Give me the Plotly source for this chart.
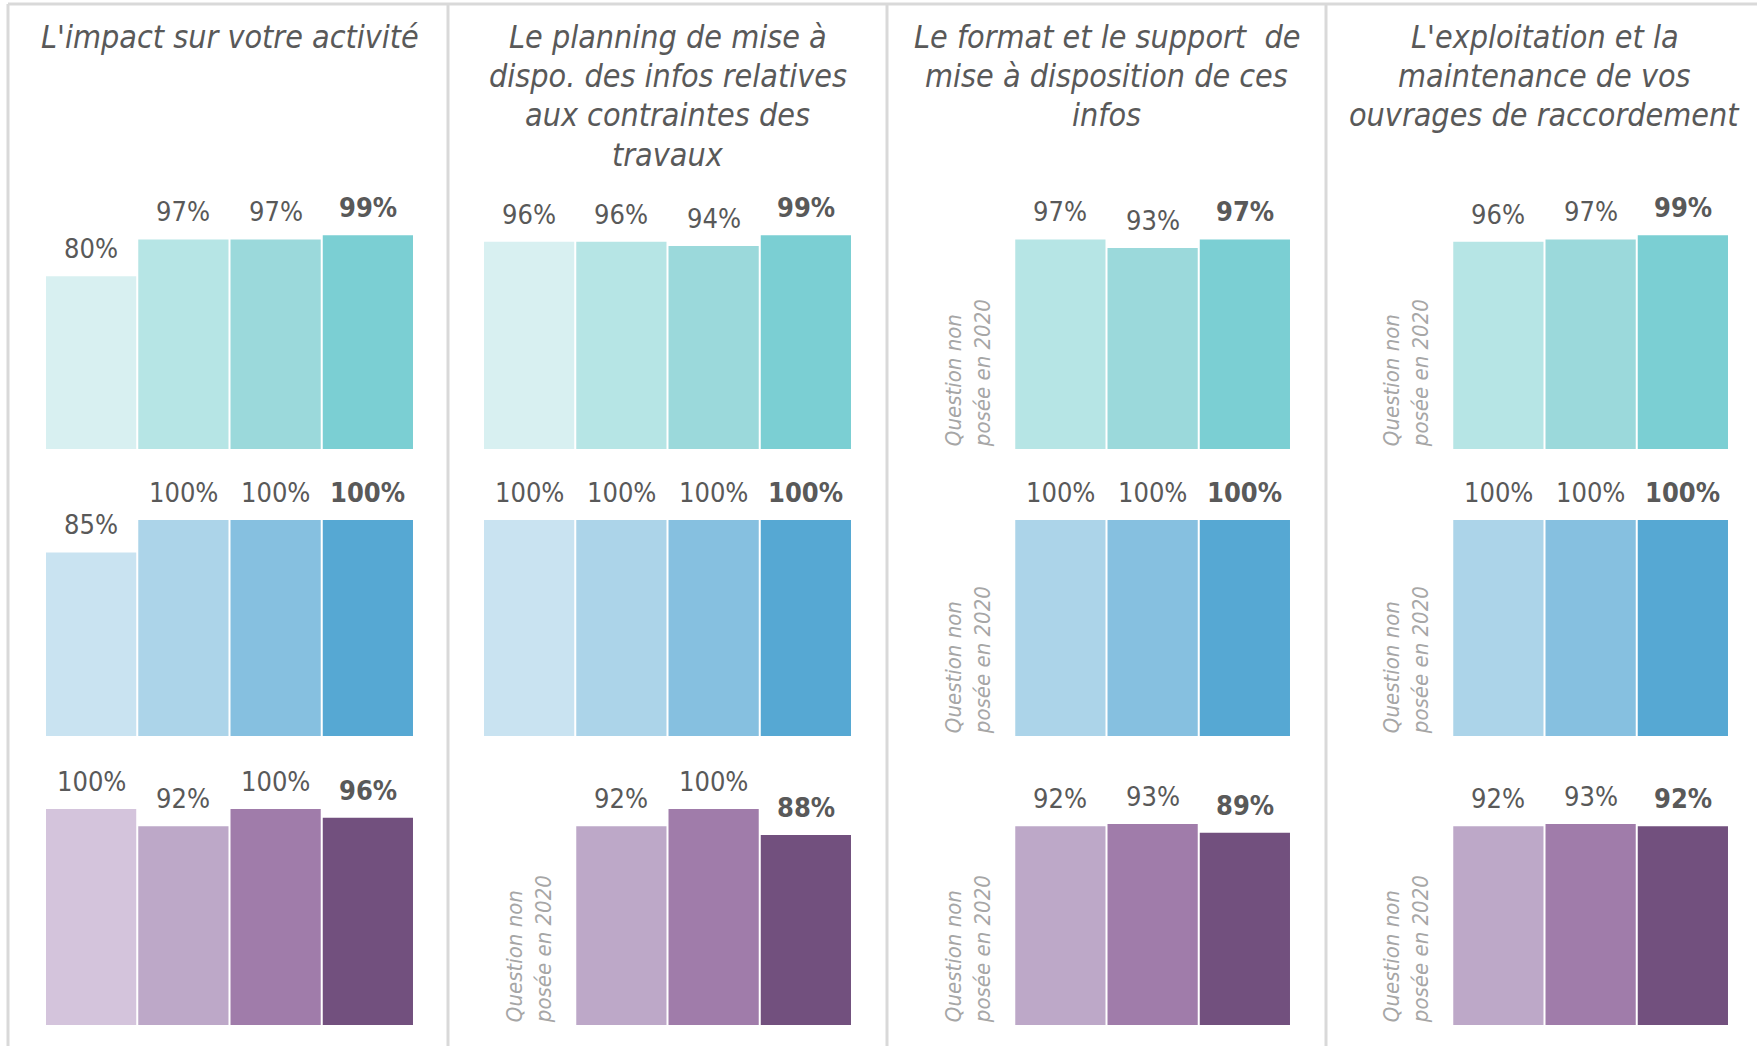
import plotly.graph_objects as go

W, H = 1757, 1046

years = ['2020', '2021', '2022', '2023']

titles = [
    "L'impact sur votre activité",
    "Le planning de mise à<br>dispo. des infos relatives<br>aux contraintes des<br>travaux",
    "Le format et le support  de<br>mise à disposition de ces<br>infos",
    "L'exploitation et la<br>maintenance de vos<br>ouvrages de raccordement",
]

# % satisfaits, one list per row (top, middle, bottom), None = question non posée
impact = [[80, 97, 97, 99], [85, 100, 100, 100], [100, 92, 100, 96]]
planning = [[96, 96, 94, 99], [100, 100, 100, 100], [None, 92, 100, 88]]
format_support = [[None, 97, 93, 97], [None, 100, 100, 100], [None, 92, 93, 89]]
exploitation = [[None, 96, 97, 99], [None, 100, 100, 100], [None, 92, 93, 92]]

panels = [impact, planning, format_support, exploitation]

teal = ['#d8f0f1', '#b6e5e5', '#9bd9db', '#7bcfd3']
blue = ['#c9e3f1', '#acd4e9', '#86c0e0', '#56a8d3']
purple = ['#d4c4dc', '#bda8c8', '#a07caa', '#72507e']
row_colors = [teal, blue, purple]

note = "Question non<br>posée en 2020"

FONT = "DejaVu Sans Condensed, DejaVu Sans, sans-serif"
TXT = '#595959'

# pixel layout of the grid
col_left = [45, 483, 922, 1360]
col_width = 369
row_base = [449, 736, 1025]
px_per_pct = 2.16
y_max = 130


def px_x(x):
    return x / W


def px_y(y):
    return 1 - y / H


fig = go.Figure()
annotations = []
n = 0
for c, panel in enumerate(panels):
    for r, values in enumerate(panel):
        n += 1
        xa = 'x' if n == 1 else f'x{n}'
        ya = 'y' if n == 1 else f'y{n}'
        fig.add_trace(go.Bar(
            x=years, y=values,
            marker_color=row_colors[r],
            marker_line_width=0,
            xaxis=xa, yaxis=ya,
            showlegend=False, hoverinfo='skip',
        ))
        x0 = col_left[c]
        base = row_base[r]
        top = base - y_max * px_per_pct
        fig.layout[f'xaxis{n}' if n > 1 else 'xaxis'] = dict(
            domain=[px_x(x0), px_x(x0 + col_width)], anchor=ya,
            type='category', range=[-0.5, 3.5], visible=False, fixedrange=True,
        )
        fig.layout[f'yaxis{n}' if n > 1 else 'yaxis'] = dict(
            domain=[px_y(base), px_y(top)], anchor=xa,
            range=[0, y_max], visible=False, fixedrange=True,
        )
        last = len(values) - 1
        for i, v in enumerate(values):
            # category axis: annotations placed by category index
            if v is None:
                annotations.append(dict(
                    x=i, y=0, xref=xa, yref=ya,
                    text=note, textangle=-90, showarrow=False,
                    xanchor='center', yanchor='bottom', align='left',
                    font=dict(family=FONT, size=22, color='#a6a6a6', style='italic'),
                ))
                continue
            label = f"{v}%"
            if i == last:
                label = f"<b>{label}</b>"
            annotations.append(dict(
                x=i, y=v, xref=xa, yref=ya,
                text=label, showarrow=False,
                xanchor='center', yanchor='bottom', yshift=10,
                font=dict(family=FONT, size=27, color=TXT),
            ))

    # title lines placed one by one to keep the tighter line spacing
    for k, line in enumerate(titles[c].split('<br>')):
        annotations.append(dict(
            x=px_x(col_left[c] + col_width / 2), y=px_y(37 + k * 39.2),
            xref='paper', yref='paper', text=line, showarrow=False,
            xanchor='center', yanchor='middle',
            font=dict(family=FONT, size=32, color=TXT, style='italic'),
        ))

# panel frame lines
shapes = [dict(type='line', xref='paper', yref='paper',
               x0=px_x(8), x1=1, y0=px_y(4), y1=px_y(4),
               line=dict(color='#d9d9d9', width=3))]
for xl in [8, 448, 887, 1326]:
    shapes.append(dict(type='line', xref='paper', yref='paper',
                       x0=px_x(xl), x1=px_x(xl), y0=px_y(4), y1=0,
                       line=dict(color='#d9d9d9', width=3)))

fig.update_layout(
    width=W, height=H,
    margin=dict(l=0, r=0, t=0, b=0),
    paper_bgcolor='white', plot_bgcolor='white',
    bargap=0.022,
    annotations=annotations,
    shapes=shapes,
    font=dict(family=FONT, color=TXT),
)

fig.write_html("out.html", config={'displayModeBar': False},
               post_script="document.body.style.margin='0';")
